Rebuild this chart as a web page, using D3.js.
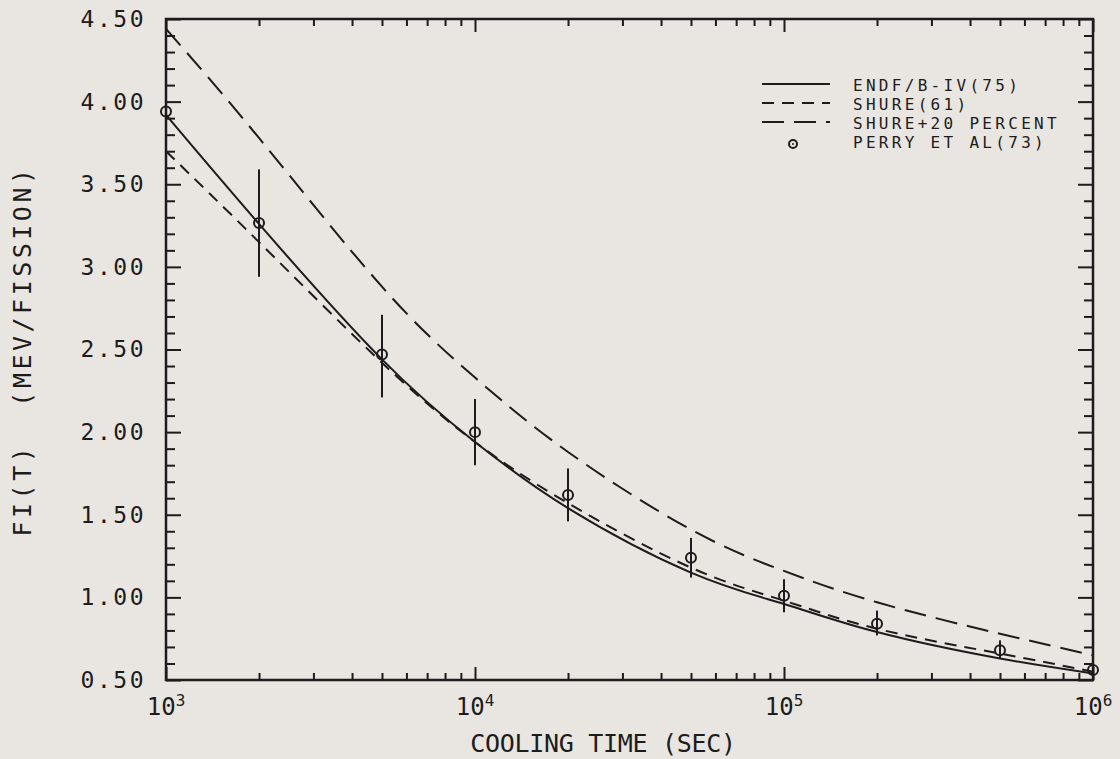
<!doctype html>
<html>
<head>
  <meta charset="utf-8">
  <title>Decay heat vs cooling time</title>
  <script src="https://cdnjs.cloudflare.com/ajax/libs/d3/7.8.5/d3.min.js"></script>
  <style>
  body { margin: 0; background: #e9e5e0; }
  svg { display: block; background: #e9e5e0; }
  text { font-family: "DejaVu Sans Mono", monospace; fill: #1c1c1c; }
  .frame { fill: none; stroke: #1c1c1c; stroke-width: 2.5px; }
  .tick line { stroke: #1c1c1c; stroke-width: 2px; }
  .domain { display: none; }
  .curve { fill: none; stroke: #1c1c1c; stroke-width: 2px; }
  </style>
</head>
<body>
  <script>
  // cooling times (sec)
  var times = [1e3, 2e3, 5e3, 1e4, 2e4, 5e4, 1e5, 2e5, 5e5, 1e6];

  // F(T) in MeV/fission
  var endf = [3.92, 3.26, 2.44, 1.94, 1.54, 1.15, 0.96, 0.79, 0.63, 0.54];
  var shure = [3.70, 3.15, 2.42, 1.94, 1.57, 1.18, 0.98, 0.81, 0.66, 0.55];
  var shure20 = [4.44, 3.78, 2.88, 2.33, 1.88, 1.41, 1.16, 0.97, 0.78, 0.65];

  // Perry et al (73) measurements with error bars
  var perry = [3.94, 3.265, 2.47, 2.00, 1.62, 1.24, 1.01, 0.84, 0.68, 0.56];
  var perryLo = [3.94, 2.94, 2.21, 1.80, 1.46, 1.12, 0.91, 0.77, 0.63, 0.56];
  var perryHi = [3.94, 3.59, 2.71, 2.20, 1.78, 1.36, 1.11, 0.92, 0.74, 0.56];

  var yMajor = [0.5, 1.0, 1.5, 2.0, 2.5, 3.0, 3.5, 4.0, 4.5];
  var xMajor = [1e3, 1e4, 1e5, 1e6];
  var legendLabels = ["ENDF/B-IV(75)", "SHURE(61)", "SHURE+20 PERCENT", "PERRY ET AL(73)"];

  var W = 1120, H = 759,
    margin = {top: 19, right: 27, bottom: 79, left: 166},
    width = W - margin.left - margin.right,
    height = H - margin.top - margin.bottom;

  var svg = d3.select("body").append("svg")
      .attr("width", W)
      .attr("height", H);
  var g = svg.append("g")
      .attr("transform", "translate(" + margin.left + "," + margin.top + ")");

  var x = d3.scaleLog().domain([1e3, 1e6]).range([0, width]);
  var y = d3.scaleLinear().domain([0.5, 4.5]).range([height, 0]);

  // minor tick values
  var yMinor = d3.range(5, 46).map(function(d) { return d / 10; })
      .filter(function(d) { return Math.abs(d * 2 - Math.round(d * 2)) > 1e-6; });
  var xMinor = [];
  [1e3, 1e4, 1e5].forEach(function(p) {
    for (var k = 2; k <= 9; k++) xMinor.push(p * k);
  });

  function noLabel() { return ""; }

  // left / right axes (ticks pointing inward)
  g.append("g").call(d3.axisLeft(y).tickValues(yMajor).tickSize(-15).tickPadding(20)
      .tickFormat(d3.format(".2f")))
    .call(function(s) {
      s.selectAll("text").style("font-size", "23px").style("letter-spacing", "2.5px")
        .attr("font-family", null).attr("font-size", null);
    });
  g.append("g").call(d3.axisLeft(y).tickValues(yMinor).tickSize(-9).tickFormat(noLabel));
  g.append("g").attr("transform", "translate(" + width + ",0)")
    .call(d3.axisRight(y).tickValues(yMajor).tickSize(-15).tickFormat(noLabel));
  g.append("g").attr("transform", "translate(" + width + ",0)")
    .call(d3.axisRight(y).tickValues(yMinor).tickSize(-9).tickFormat(noLabel));

  // bottom / top axes
  g.append("g").attr("transform", "translate(0," + height + ")")
    .call(d3.axisBottom(x).tickValues(xMajor).tickSize(-13).tickFormat(noLabel));
  g.append("g").attr("transform", "translate(0," + height + ")")
    .call(d3.axisBottom(x).tickValues(xMinor).tickSize(-7).tickFormat(noLabel));
  g.append("g")
    .call(d3.axisTop(x).tickValues(xMajor).tickSize(-13).tickFormat(noLabel));
  g.append("g")
    .call(d3.axisTop(x).tickValues(xMinor).tickSize(-7).tickFormat(noLabel));

  // 10^n labels
  var xl = g.selectAll(".xlab").data(xMajor).enter().append("text")
      .attr("class", "xlab")
      .attr("x", function(d) { return x(d); })
      .attr("y", height + 35)
      .attr("text-anchor", "middle")
      .style("font-size", "24px");
  xl.append("tspan").text("10");
  xl.append("tspan").attr("dy", -9).style("font-size", "16px")
    .text(function(d) { return Math.round(Math.log10(d)); });

  // frame
  g.append("rect").attr("class", "frame")
    .attr("width", width).attr("height", height);

  // curves
  var line = d3.line()
      .x(function(d) { return x(d[0]); })
      .y(function(d) { return y(d[1]); })
      .curve(d3.curveNatural);

  function pairs(vals) { return times.map(function(t, i) { return [t, vals[i]]; }); }

  g.append("path").attr("class", "curve").attr("d", line(pairs(endf)));
  g.append("path").attr("class", "curve").attr("d", line(pairs(shure)))
    .style("stroke-dasharray", "12,8");
  g.append("path").attr("class", "curve").attr("d", line(pairs(shure20)))
    .style("stroke-dasharray", "22,10");

  // measured points
  var pts = g.selectAll(".pt").data(times).enter().append("g").attr("class", "pt");
  pts.append("line")
    .attr("x1", function(d) { return x(d); })
    .attr("x2", function(d) { return x(d); })
    .attr("y1", function(d, i) { return y(perryLo[i]); })
    .attr("y2", function(d, i) { return y(perryHi[i]); })
    .style("stroke", "#1c1c1c").style("stroke-width", 2);
  pts.append("circle")
    .attr("cx", function(d) { return x(d); })
    .attr("cy", function(d, i) { return y(perry[i]); })
    .attr("r", 5)
    .style("fill", "none").style("stroke", "#1c1c1c").style("stroke-width", 2);

  // legend
  var lg = svg.append("g").attr("transform", "translate(762,0)");
  var rowY = [84, 103, 122, 141];
  var dashes = [null, "12,8", "22,10"];
  dashes.forEach(function(da, i) {
    lg.append("line").attr("x1", 0).attr("x2", 68)
      .attr("y1", rowY[i]).attr("y2", rowY[i])
      .attr("class", "curve").style("stroke-dasharray", da);
  });
  lg.append("circle").attr("cx", 31).attr("cy", rowY[3] + 3).attr("r", 4)
    .style("fill", "none").style("stroke", "#1c1c1c").style("stroke-width", 2);
  lg.append("circle").attr("cx", 31).attr("cy", rowY[3] + 3).attr("r", 1)
    .style("fill", "#1c1c1c");
  lg.selectAll(".lt").data(legendLabels).enter().append("text")
    .attr("x", 91)
    .attr("y", function(d, i) { return rowY[i] + 7; })
    .style("font-size", "16px").style("letter-spacing", "3.3px")
    .text(function(d) { return d; });

  // axis titles
  svg.append("text")
    .attr("x", 603)
    .attr("y", 752)
    .attr("text-anchor", "middle")
    .style("font-size", "25px").style("letter-spacing", "-0.3px")
    .text("COOLING TIME (SEC)");

  svg.append("text")
    .attr("transform", "translate(31,351) rotate(-90)")
    .attr("text-anchor", "middle")
    .style("font-size", "25px").style("letter-spacing", "3.5px")
    .style("white-space", "pre")
    .text("FI(T)  (MEV/FISSION)");
  </script>
</body>
</html>
